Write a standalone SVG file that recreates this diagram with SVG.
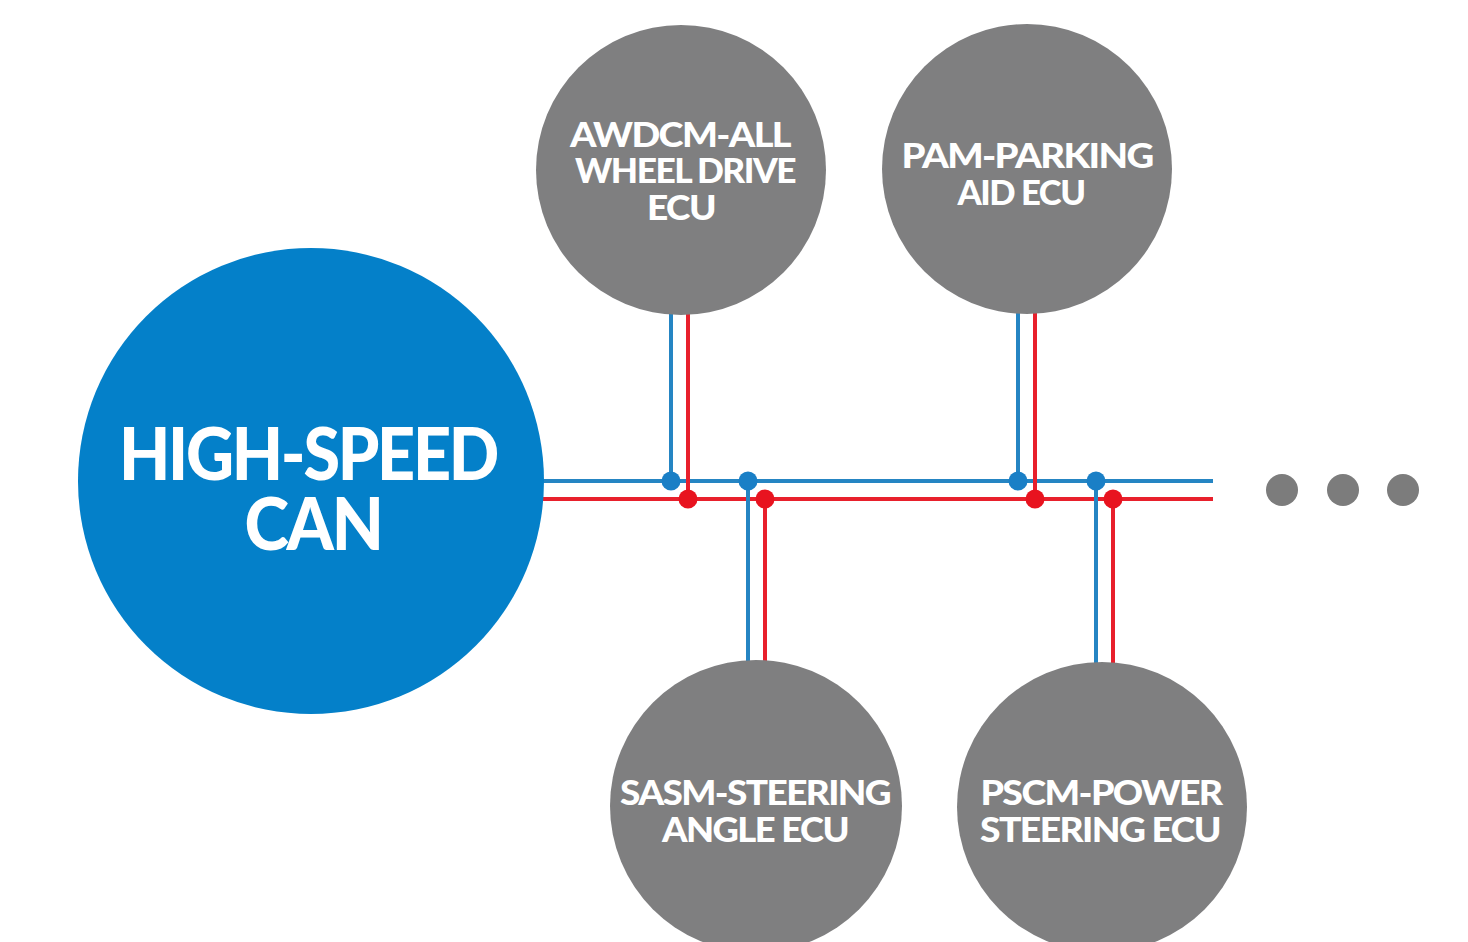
<svg xmlns="http://www.w3.org/2000/svg" width="1468" height="942" viewBox="0 0 1468 942">
<style>
.ecu{fill:#7f7f80}
.lbl{fill:#fff;font-family:Lato,"Open Sans","Liberation Sans",sans-serif;font-weight:900;text-anchor:middle}
.s{font-size:35px;letter-spacing:-1.5px}
.b{font-size:72px;letter-spacing:-2.5px}
.bl{stroke:#2585c3;stroke-width:4;fill:none}
.rd{stroke:#e8202c;stroke-width:4;fill:none}
.bd{fill:#1a7fc6}
.rdd{fill:#e8131f}
.more{fill:#7c7c7c}
</style>
<rect width="1468" height="942" fill="#fff"/>
<g id="connectors">
<line class="bl" x1="540" y1="481" x2="1213" y2="481"/>
<line class="rd" x1="540" y1="499" x2="1213" y2="499"/>
<line class="bl" x1="671" y1="310" x2="671" y2="481"/>
<line class="rd" x1="688" y1="310" x2="688" y2="499"/>
<line class="bl" x1="1018" y1="310" x2="1018" y2="481"/>
<line class="rd" x1="1035" y1="310" x2="1035" y2="499"/>
<line class="bl" x1="748" y1="481" x2="748" y2="668"/>
<line class="rd" x1="765" y1="499" x2="765" y2="668"/>
<line class="bl" x1="1096" y1="481" x2="1096" y2="668"/>
<line class="rd" x1="1113" y1="499" x2="1113" y2="668"/>
<circle class="bd" cx="671" cy="481" r="9.5"/>
<circle class="rdd" cx="688" cy="499" r="9.5"/>
<circle class="bd" cx="748" cy="481" r="9.5"/>
<circle class="rdd" cx="765" cy="499" r="9.5"/>
<circle class="bd" cx="1018" cy="481" r="9.5"/>
<circle class="rdd" cx="1035" cy="499" r="9.5"/>
<circle class="bd" cx="1096" cy="481" r="9.5"/>
<circle class="rdd" cx="1113" cy="499" r="9.5"/>
</g>
<g id="can">
<circle cx="311" cy="481" r="233" fill="#0480c9"/>
<text class="lbl b" x="308" y="480" textLength="378" lengthAdjust="spacingAndGlyphs">HIGH-SPEED</text>
<text class="lbl b" x="313" y="550" textLength="137" lengthAdjust="spacingAndGlyphs">CAN</text>
</g>
<g id="awdcm">
<circle class="ecu" cx="681" cy="170" r="145"/>
<text class="lbl s" x="680" y="147" textLength="220" lengthAdjust="spacingAndGlyphs">AWDCM-ALL</text>
<text class="lbl s" x="685" y="183" textLength="220" lengthAdjust="spacingAndGlyphs">WHEEL DRIVE</text>
<text class="lbl s" x="681" y="220" textLength="68" lengthAdjust="spacingAndGlyphs">ECU</text>
</g>
<g id="pam">
<circle class="ecu" cx="1027" cy="169" r="145"/>
<text class="lbl s" x="1027" y="168" textLength="251" lengthAdjust="spacingAndGlyphs">PAM-PARKING</text>
<text class="lbl s" x="1021" y="205" textLength="127" lengthAdjust="spacingAndGlyphs">AID ECU</text>
</g>
<g id="sasm">
<circle class="ecu" cx="756" cy="806" r="146"/>
<text class="lbl s" x="755" y="805" textLength="270" lengthAdjust="spacingAndGlyphs">SASM-STEERING</text>
<text class="lbl s" x="755" y="842" textLength="186" lengthAdjust="spacingAndGlyphs">ANGLE ECU</text>
</g>
<g id="pscm">
<circle class="ecu" cx="1102" cy="807" r="145"/>
<text class="lbl s" x="1101" y="805" textLength="241" lengthAdjust="spacingAndGlyphs">PSCM-POWER</text>
<text class="lbl s" x="1100" y="842" textLength="240" lengthAdjust="spacingAndGlyphs">STEERING ECU</text>
</g>
<g id="more">
<circle class="more" cx="1282" cy="490" r="16"/>
<circle class="more" cx="1343" cy="490" r="16"/>
<circle class="more" cx="1403" cy="490" r="16"/>
</g>
</svg>
